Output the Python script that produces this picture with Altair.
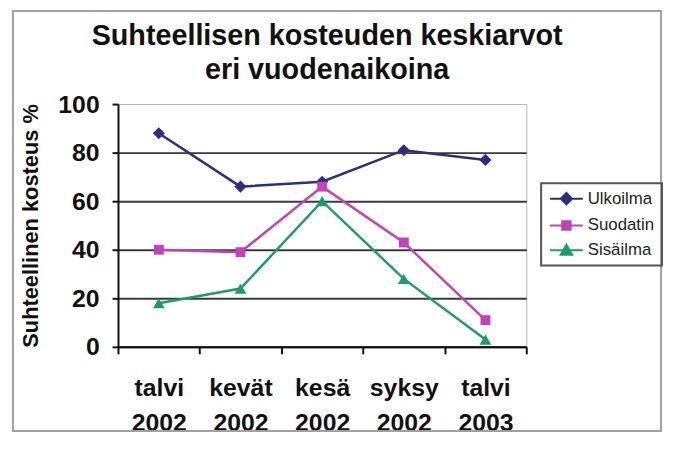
import altair as alt
import pandas as pd

seasons = ["talvi 2002", "kevät 2002", "kesä 2002", "syksy 2002", "talvi 2003"]
series = ["Ulkoilma", "Suodatin", "Sisäilma"]
ulkoilma = [88, 66, 68, 81, 77]
suodatin = [40, 39, 66, 43, 11]
sisailma = [18, 24, 60, 28, 3]
y_ticks = [0, 20, 40, 60, 80, 100]

colors = ["#2b2f7c", "#c043b8", "#1f9a6a"]
marker_shapes = ["diamond", "square", "triangle-up"]
marker_sizes = [150, 100, 140]
legend_paths = [
    "M-3.3,0H3.3M0,-1.15L1.15,0L0,1.15L-1.15,0Z",
    "M-3.3,0H3.3M-0.85,-0.85H0.85V0.85H-0.85Z",
    "M-3.3,0H3.3M0,-1.1L1.15,0.9H-1.15Z",
]

rows = []
for name, vals in zip(series, [ulkoilma, suodatin, sisailma]):
    for s, v in zip(seasons, vals):
        rows.append({"season": s, "series": name, "value": v})
df = pd.DataFrame(rows)

FONT = "Liberation Sans"
PL, PT, W, H, PR, PB = 111, 95, 412, 245, 140, 88

x_enc = alt.X(
    "season:N",
    sort=seasons,
    scale=alt.Scale(type="band", domain=seasons, paddingInner=0, paddingOuter=0),
    bandPosition=0.5,
    axis=alt.Axis(
        title=None,
        labelAngle=0,
        labelExpr="split(datum.label, ' ')",
        labelFontSize=25,
        labelFontWeight="bold",
        labelLineHeight=35,
        labelPadding=22,
        labelColor="#111",
        tickBand="extent",
        tickSize=7,
        tickWidth=2,
        tickColor="#111",
        domainColor="#111",
        domainWidth=2,
        grid=False,
    ),
)
y_enc = alt.Y(
    "value:Q",
    scale=alt.Scale(domain=[0, 100], nice=False),
    axis=alt.Axis(
        title="Suhteellinen kosteus %",
        titleFontSize=22,
        titleFontWeight="bold",
        titleColor="#111",
        titlePadding=16,
        values=y_ticks,
        labelFontSize=25,
        labelFontWeight="bold",
        labelColor="#111",
        labelPadding=13,
        tickSize=6,
        tickWidth=2,
        tickColor="#111",
        domainColor="#111",
        domainWidth=2,
        grid=True,
        gridColor="#3a3a3a",
        gridWidth=2,
        gridOpacity={"condition": {"test": "datum.value >= 100", "value": 0}, "value": 1},
    ),
)

frame = alt.Chart(pd.DataFrame({"a": [0]})).mark_rect(
    fill="transparent", stroke="#a0a0a0", strokeWidth=2
).encode(
    x=alt.value(-106), x2=alt.value(548), y=alt.value(-94), y2=alt.value(330)
)

series_layers = []
for name, col, shp, sz in zip(series, colors, marker_shapes, marker_sizes):
    base = alt.Chart(df).transform_filter(alt.datum.series == name)
    series_layers.append(base.mark_line(strokeWidth=2.5, color=col).encode(x=x_enc, y=y_enc))
    series_layers.append(
        base.mark_point(filled=True, shape=shp, size=sz, opacity=1, color=col).encode(x=x_enc, y=y_enc)
    )

leg = dict(title=None, orient="none", legendX=427, legendY=80)
legend_layer = alt.Chart(df).mark_point(
    filled=True, size=100, strokeWidth=2, opacity=0
).encode(
    x=x_enc, y=y_enc,
    color=alt.Color(
        "series:N", scale=alt.Scale(domain=series, range=colors),
        legend=alt.Legend(
            padding=7, strokeColor="#555", symbolSize=100,
            symbolStrokeWidth=2, symbolOffset=10, labelOffset=13,
            labelFontSize=17, labelFont=FONT, labelColor="#222",
            rowPadding=7, symbolOpacity=1, **leg,
        ),
    ),
    stroke=alt.Stroke("series:N", scale=alt.Scale(domain=series, range=colors),
                      legend=alt.Legend(symbolOpacity=1, **leg)),
    shape=alt.Shape("series:N", scale=alt.Scale(domain=series, range=legend_paths),
                    legend=alt.Legend(symbolOpacity=1, **leg)),
)

chart = alt.layer(frame, *series_layers, legend_layer).properties(
    width=W,
    height=H,
    padding={"left": PL, "top": PT, "right": PR, "bottom": PB},
    autosize=alt.AutoSizeParams(type="none"),
    title=alt.TitleParams(
        text=["Suhteellisen kosteuden keskiarvot", "eri vuodenaikoina"],
        fontSize=29, fontWeight="bold", font=FONT, color="#111",
        anchor="middle", frame="group", lineHeight=35, offset=0, dx=5, dy=76,
    ),
).configure(font=FONT, background="white").configure_view(
    stroke="#b0b0b0", strokeWidth=1
).configure_legend(strokeWidth=2)

chart.save("out.html", embed_options={"renderer": "svg", "actions": False})
